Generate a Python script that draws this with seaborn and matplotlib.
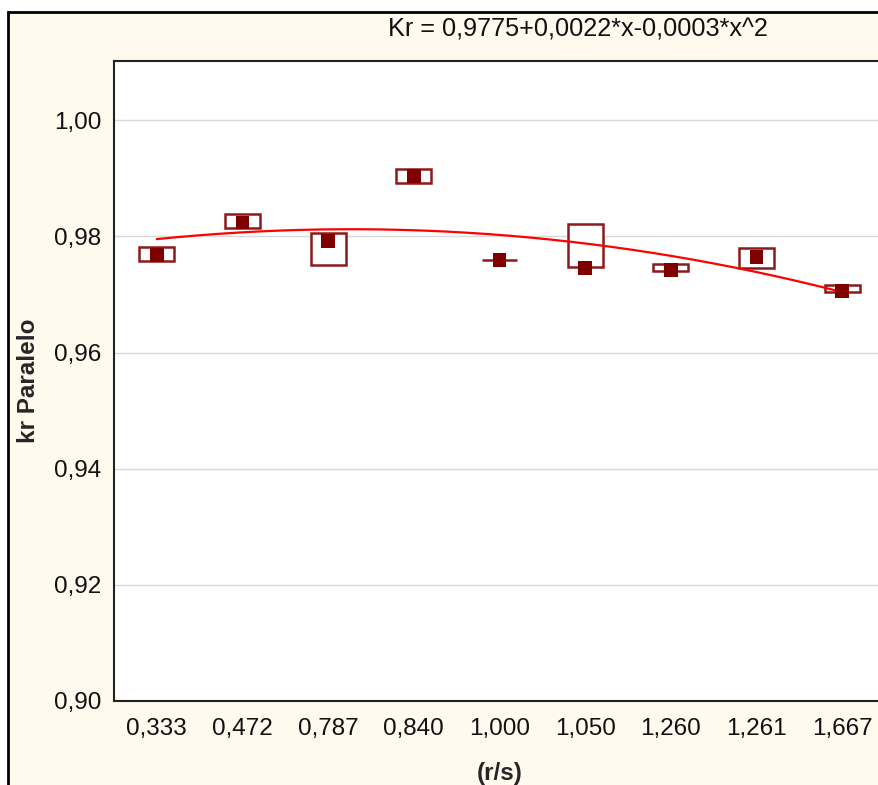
import numpy as np
import pandas as pd
import matplotlib
matplotlib.use("Agg")
import matplotlib.pyplot as plt
from matplotlib.patches import Rectangle
import seaborn as sns

# categories (r/s) and box statistics
categories = ["0,333", "0,472", "0,787", "0,840", "1,000", "1,050", "1,260", "1,261", "1,667"]
centre = [0.9768, 0.9824, 0.9792, 0.9904, 0.9759, 0.9746, 0.9742, 0.9765, 0.9706]
box_low = [0.9757, 0.9814, 0.9750, 0.9892, 0.97588, 0.9747, 0.9741, 0.9746, 0.9705]
box_high = [0.9781, 0.9838, 0.9806, 0.9916, 0.97592, 0.9821, 0.9753, 0.9780, 0.9716]

# quadratic fit Kr = c0 + c1*x + c2*x^2, x = 1..9 (category index)
fit_coef = [0.9777, 0.00216, -0.00033]
fit_label = "Kr = 0,9775+0,0022*x-0,0003*x^2"

y_ticks = [0.90, 0.92, 0.94, 0.96, 0.98, 1.00]

sns.set_theme(style="whitegrid")
plt.rcParams["font.family"] = ["Liberation Sans", "DejaVu Sans"]

df = pd.DataFrame({"pos": np.arange(len(categories)), "centre": centre})

fig = plt.figure(figsize=(8.79, 7.85), dpi=100, facecolor="white")
# cream panel with black frame (the right and bottom edges are cut off)
fig.patches.append(Rectangle((8 / 879, -0.05), 1.1, 1 - 12 / 785 + 0.05,
                             transform=fig.transFigure, facecolor="#fff9ee",
                             edgecolor="black", linewidth=2, zorder=-5))

ax = fig.add_axes([114 / 879, 1 - 701 / 785, 771 / 879, 640 / 785])
ax.set_facecolor("white")

stats = [dict(med=c, q1=lo, q3=hi, whislo=lo, whishi=hi)
         for c, lo, hi in zip(centre, box_low, box_high)]
ax.bxp(stats, positions=df["pos"], widths=0.41, showfliers=False, showcaps=False,
       patch_artist=True,
       boxprops=dict(facecolor="white", edgecolor="#8b1a1a", linewidth=1.8),
       medianprops=dict(linewidth=0),
       whiskerprops=dict(linewidth=0),
       zorder=2, manage_ticks=False)

# fitted curve
xs = np.linspace(0, len(categories) - 1, 200)
t = xs + 1
ys = fit_coef[0] + fit_coef[1] * t + fit_coef[2] * t ** 2
sns.lineplot(x=xs, y=ys, color="#ff0000", linewidth=1.6, ax=ax, zorder=3)

sns.scatterplot(data=df, x="pos", y="centre", marker="s", s=100, color="#800000",
                edgecolor="none", ax=ax, zorder=4)

ax.set_xlim(-0.5, len(categories) - 0.5)
ax.set_ylim(0.90, 1.0102)
ax.set_xticks(df["pos"])
ax.set_xticklabels(categories)
ax.set_yticks(y_ticks)
ax.set_yticklabels([f"{v:.2f}".replace(".", ",") for v in y_ticks])
ax.grid(axis="y", color="#d9d9d9", linewidth=1)
ax.grid(axis="x", visible=False)
ax.tick_params(axis="both", length=5, width=1.2, color="#222222", direction="out",
               labelsize=17.5, labelcolor="#111111", pad=4)
ax.tick_params(axis="x", pad=7)
for side in ["left", "bottom", "top"]:
    ax.spines[side].set_color("#222222")
    ax.spines[side].set_linewidth(1.5)
ax.spines["right"].set_visible(False)

ax.set_xlabel("(r/s)", fontsize=17.5, fontweight="bold", labelpad=16)
ax.set_ylabel("kr Paralelo", fontsize=17.5, fontweight="bold", labelpad=10)

fig.text(578 / 879, 1 - 29 / 785, fit_label, ha="center", va="center", fontsize=18.2,
         color="#111111")

fig.savefig("out.png", dpi=100, facecolor=fig.get_facecolor())
